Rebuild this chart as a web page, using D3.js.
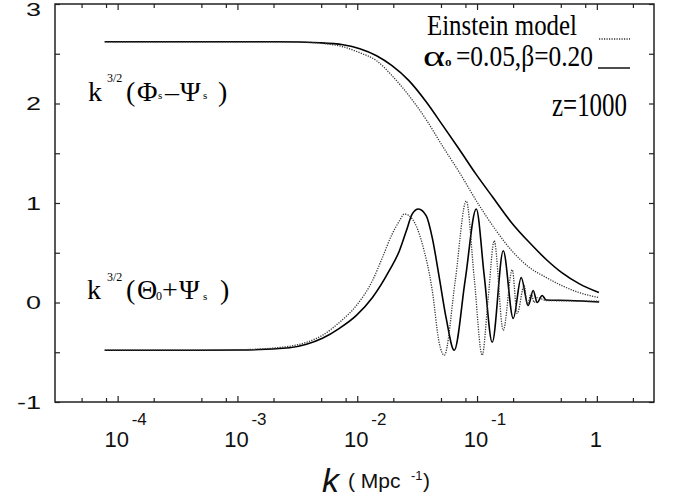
<!DOCTYPE html>
<html>
<head>
<meta charset="utf-8">
<script src="https://cdn.jsdelivr.net/npm/d3@7"></script>
<style>
  body { margin: 0; background: #fff; }
  svg { display: block; }
</style>
</head>
<body>
<svg id="chart" width="685" height="501"></svg>
<script>
// k in Mpc^-1 (z = 1000)

// upper pair: k^{3/2} (Phi_s - Psi_s)
const kPhiModel = [7.8e-5, 4.8e-4, 2.2e-3, 4.9e-3, 7.6e-3, 1.05e-2, 1.45e-2, 1.95e-2, 2.7e-2, 3.8e-2,
                   5.1e-2, 7.1e-2, 9.8e-2, 0.135, 0.195, 0.275, 0.38, 0.51, 0.71, 1.04];
const phiModel  = [2.62, 2.62, 2.62, 2.61, 2.59, 2.55, 2.48, 2.38, 2.23, 2.01,
                   1.79, 1.54, 1.29, 1.06, 0.80, 0.60, 0.43, 0.30, 0.19, 0.10];

const kPhiEinstein = [7.8e-5, 4.8e-4, 2.7e-3, 5.5e-3, 7.6e-3, 1.05e-2, 1.45e-2, 1.95e-2, 2.7e-2, 3.8e-2,
                      5.1e-2, 7.1e-2, 0.105, 0.145, 0.195, 0.275, 0.38, 0.51, 0.71, 1.04];
const phiEinstein  = [2.62, 2.62, 2.62, 2.60, 2.57, 2.51, 2.43, 2.28, 2.08, 1.83,
                      1.58, 1.31, 0.97, 0.72, 0.52, 0.35, 0.25, 0.17, 0.10, 0.05];

// lower pair: k^{3/2} (Theta_0 + Psi_s)
const kThetaModel = [7.8e-5, 4.8e-4, 1.05e-3, 2.72e-3, 3.77e-3, 5.12e-3, 7.1e-3, 9.84e-3, 1.34e-2, 1.85e-2,
                     2.25e-2, 2.57e-2, 2.88e-2, 3.24e-2, 3.77e-2, 4.23e-2, 4.84e-2, 5.53e-2, 6.45e-2, 7.97e-2,
                     9.85e-2, 0.1148, 0.1339, 0.1655, 0.2005, 0.2337, 0.2674, 0.2943, 0.3177, 0.3499,
                     0.3776, 0.5875, 1.045];
const thetaModel  = [-0.48, -0.48, -0.478, -0.455, -0.42, -0.36, -0.26, -0.13, 0.05, 0.32,
                     0.52, 0.72, 0.89, 0.94, 0.87, 0.65, 0.25, -0.16, -0.48, 0.23,
                     0.94, 0.27, -0.40, 0.52, -0.16, 0.25, -0.03, 0.12, 0.00, 0.07,
                     0.025, 0.02, 0.005];

const kThetaEinstein = [7.8e-5, 4.8e-4, 1.05e-3, 2.72e-3, 3.77e-3, 5.12e-3, 7.1e-3, 9.84e-3, 1.34e-2, 1.62e-2,
                        1.96e-2, 2.25e-2, 2.47e-2, 2.88e-2, 3.49e-2, 4.23e-2, 4.84e-2, 5.33e-2, 6.58e-2, 8.13e-2,
                        9.48e-2, 0.1104, 0.124, 0.139, 0.1655, 0.1967, 0.2163, 0.2477, 0.2624, 0.2832,
                        0.2999, 0.3177, 0.3776, 1.045];
const thetaEinstein  = [-0.48, -0.48, -0.475, -0.44, -0.40, -0.33, -0.20, -0.03, 0.22, 0.45,
                        0.69, 0.82, 0.89, 0.84, 0.59, 0.12, -0.41, -0.53, 0.22, 1.02,
                        0.24, -0.53, 0.05, 0.62, -0.28, 0.33, -0.11, 0.17, -0.03, 0.09,
                        0.00, 0.05, 0.02, 0.013];

// axes
const kDomain = [3e-5, 3];
const yDomain = [-1, 3];
const xMajor = [1e-4, 1e-3, 1e-2, 1e-1, 1];
const xExponents = ["-4", "-3", "-2", "-1", ""];
const yTicks = [-1, -0.5, 0, 0.5, 1, 1.5, 2, 2.5, 3];
const yLabelValues = [3, 2, 1, 0, -1];
const yLabels = ["3", "2", "1", "0", "-1"];

const svg = d3.select("#chart");
const frame = { left: 55, right: 654, top: 4, bottom: 402 };

const x = d3.scaleLog().domain(kDomain).range([frame.left, frame.right]);
const y = d3.scaleLinear().domain(yDomain).range([frame.bottom, frame.top]);

// minor ticks at 2, 5, 8 in each decade
const xMinor = [];
for (let e = -5; e <= 0; e++) {
  for (const m of [2, 5, 8]) {
    const v = m * Math.pow(10, e);
    if (v > kDomain[0] && v < kDomain[1]) xMinor.push(v);
  }
}

function tickAxis(axis, tx, ty) {
  svg.append("g")
    .attr("transform", `translate(${tx},${ty})`)
    .call(axis)
    .call(g => g.select(".domain").remove())
    .call(g => g.selectAll("line").attr("stroke", "#222").attr("stroke-width", 1.2));
}

tickAxis(d3.axisBottom(x).tickValues(xMajor).tickSize(-6).tickFormat(""), 0, frame.bottom);
tickAxis(d3.axisBottom(x).tickValues(xMinor).tickSize(-4).tickFormat(""), 0, frame.bottom);
tickAxis(d3.axisTop(x).tickValues(xMajor).tickSize(-6).tickFormat(""), 0, frame.top);
tickAxis(d3.axisTop(x).tickValues(xMinor).tickSize(-4).tickFormat(""), 0, frame.top);
tickAxis(d3.axisLeft(y).tickValues(yTicks).tickSize(-5).tickFormat(""), frame.left, 0);
tickAxis(d3.axisRight(y).tickValues(yTicks).tickSize(-5).tickFormat(""), frame.right, 0);

svg.append("rect")
  .attr("x", frame.left).attr("y", frame.top)
  .attr("width", frame.right - frame.left).attr("height", frame.bottom - frame.top)
  .attr("fill", "none").attr("stroke", "#222").attr("stroke-width", 1.5);

// x tick labels: 10 with raised exponent
const sans = "'Liberation Sans', Arial, sans-serif";
xMajor.forEach((v, i) => {
  const px = x(v);
  const exp = xExponents[i];
  svg.append("text")
    .attr("x", px - 1).attr("y", 447)
    .attr("text-anchor", "middle")
    .attr("font-family", sans).attr("font-size", 22).attr("fill", "#111")
    .text(exp ? "10" : "1");
  if (exp) {
    svg.append("text")
      .attr("x", px + 14).attr("y", 425)
      .attr("font-family", sans).attr("font-size", 17).attr("fill", "#111")
      .text(exp);
  }
});

// y tick labels (wide digits)
yLabelValues.forEach((v, i) => {
  const cy = Math.max(y(v), 9.5);
  svg.append("text")
    .attr("transform", `translate(41,${cy + 6.5}) scale(1.5,1)`)
    .attr("text-anchor", "end")
    .attr("font-family", sans).attr("font-size", 18).attr("fill", "#111")
    .text(yLabels[i]);
});

// axis title
const title = svg.append("text")
  .attr("font-family", sans).attr("fill", "#111");
title.append("tspan").attr("x", 322).attr("y", 492)
  .attr("font-size", 34).attr("font-style", "italic").text("k");
title.append("tspan").attr("x", 348).attr("y", 488)
  .attr("font-size", 21).text("( Mpc");
title.append("tspan").attr("x", 411).attr("y", 480)
  .attr("font-size", 13).text("-1");
title.append("tspan").attr("x", 423).attr("y", 488)
  .attr("font-size", 21).text(")");

// curves
const line = d3.line()
  .x(d => x(d[0]))
  .y(d => y(d[1]))
  .curve(d3.curveMonotoneX);
const pairs = (ks, vs) => ks.map((k, i) => [k, vs[i]]);

const solid = { stroke: "#000", width: 1.6, dash: null };
const dotted = { stroke: "#333", width: 1.3, dash: "1.2 1.3" };

[[kPhiModel, phiModel, solid], [kThetaModel, thetaModel, solid],
 [kPhiEinstein, phiEinstein, dotted], [kThetaEinstein, thetaEinstein, dotted]]
  .forEach(([ks, vs, st]) => {
    svg.append("path")
      .datum(pairs(ks, vs))
      .attr("fill", "none")
      .attr("stroke", st.stroke)
      .attr("stroke-width", st.width)
      .attr("stroke-dasharray", st.dash)
      .attr("d", line);
  });

// curve labels
const serif = "'Liberation Serif', 'Times New Roman', serif";
function curveLabel(base, parts) {
  const t = svg.append("text").attr("font-family", serif).attr("fill", "#000");
  parts.forEach(p => {
    t.append("tspan")
      .attr("x", p[0]).attr("y", base + (p[2] || 0))
      .attr("font-size", p[3] || 28)
      .text(p[1]);
  });
}
curveLabel(101, [[88, "k"], [107, "3/2", -19, 12], [126, "("], [137, "\u03A6"], [158, "s", -2, 11],
                 [165, "\u2013"], [180, "\u03A8"], [203, "s", -2, 11], [218, ")"]]);
curveLabel(299, [[87, "k"], [107, "3/2", -18, 12], [126, "("], [137, "\u0398"], [156, "0", 1, 12],
                 [162, "+"], [179, "\u03A8"], [203, "s", 1, 11], [220, ")"]]);

// legend
const legend = svg.append("g").attr("font-family", serif).attr("fill", "#000");
legend.append("text").attr("x", 427).attr("y", 35)
  .attr("font-size", 30).attr("textLength", 150).attr("lengthAdjust", "spacingAndGlyphs")
  .text("Einstein model");
legend.append("line").attr("x1", 599).attr("x2", 630).attr("y1", 39).attr("y2", 39)
  .attr("stroke", dotted.stroke).attr("stroke-width", dotted.width).attr("stroke-dasharray", dotted.dash);

legend.append("text").attr("x", 423).attr("y", 66)
  .attr("font-size", 30).attr("textLength", 22).attr("lengthAdjust", "spacingAndGlyphs")
  .text("\u03B1");
legend.append("text").attr("x", 445).attr("y", 66).attr("font-size", 13).attr("font-weight", "bold").text("o");
legend.append("text").attr("x", 456).attr("y", 66)
  .attr("font-size", 30).attr("textLength", 137).attr("lengthAdjust", "spacingAndGlyphs")
  .text("=0.05,\u03B2=0.20");
legend.append("line").attr("x1", 598).attr("x2", 630).attr("y1", 68).attr("y2", 68)
  .attr("stroke", "#000").attr("stroke-width", 1.4);

legend.append("text").attr("x", 552).attr("y", 116)
  .attr("font-size", 33).attr("textLength", 75).attr("lengthAdjust", "spacingAndGlyphs")
  .text("z=1000");
</script>
</body>
</html>
